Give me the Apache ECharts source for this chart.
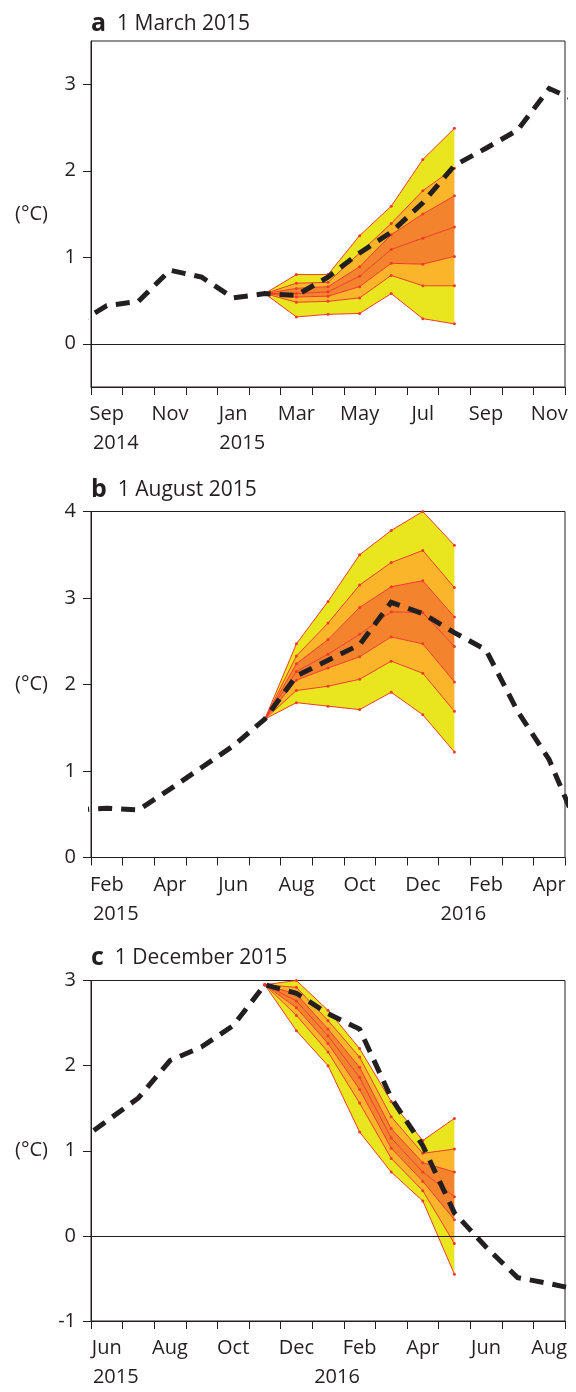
<!DOCTYPE html>
<html>
<head>
<meta charset="utf-8">
<script src="https://cdn.jsdelivr.net/npm/echarts@6/dist/echarts.min.js"></script>
<style>
  html, body { margin: 0; padding: 0; background: #fff; }
  #chart { width: 576px; height: 1392px; }
</style>
</head>
<body>
<div id="chart"></div>
<script>
// ---------- data ----------
// Month slots are counted from the first month on each axis (slot 0).
// Observed anomaly series start one slot before the axis (slot -1) and end one
// slot after it, so the curve runs out to the frame on both sides.
// Forecast plumes: seven percentile lines, top to bottom, starting at fanStart.

// a: forecast issued 1 March 2015 (axis Sep 2014 – Nov 2015)
const aMonthLabels = ['Sep', '', 'Nov', '', 'Jan', '', 'Mar', '', 'May', '', 'Jul', '', 'Sep', '', 'Nov'];
const aYearLabels  = ['2014', '', '', '', '2015', '', '', '', '', '', '', '', '', '', ''];
const aYTicks = [0, 1, 2, 3];
const aObserved = [0.22, 0.44, 0.49, 0.85, 0.77, 0.53, 0.58, 0.56, 0.77, 1.05, 1.29, 1.63, 2.06, 2.26, 2.47, 2.95, 2.79];
const aFanStart = 5;
const aP1 = [0.58, 0.80, 0.80, 1.25, 1.59, 2.13, 2.49];
const aP2 = [0.58, 0.70, 0.71, 1.05, 1.39, 1.77, 2.03];
const aP3 = [0.58, 0.64, 0.66, 0.89, 1.26, 1.50, 1.71];
const aP4 = [0.58, 0.58, 0.60, 0.78, 1.09, 1.22, 1.35];
const aP5 = [0.58, 0.54, 0.55, 0.66, 0.93, 0.92, 1.01];
const aP6 = [0.58, 0.48, 0.49, 0.53, 0.79, 0.67, 0.67];
const aP7 = [0.58, 0.31, 0.34, 0.35, 0.58, 0.29, 0.23];

// b: forecast issued 1 August 2015 (axis Feb 2015 – Apr 2016)
const bMonthLabels = ['Feb', '', 'Apr', '', 'Jun', '', 'Aug', '', 'Oct', '', 'Dec', '', 'Feb', '', 'Apr'];
const bYearLabels  = ['2015', '', '', '', '', '', '', '', '', '', '', '2016', '', '', ''];
const bYTicks = [0, 1, 2, 3, 4];
const bObserved = [0.55, 0.57, 0.55, 0.79, 1.04, 1.29, 1.60, 2.10, 2.28, 2.46, 2.95, 2.82, 2.60, 2.40, 1.69, 1.13, 0.27];
const bFanStart = 5;
const bP1 = [1.60, 2.47, 2.96, 3.50, 3.78, 4.00, 3.61];
const bP2 = [1.60, 2.33, 2.71, 3.15, 3.41, 3.55, 3.12];
const bP3 = [1.60, 2.24, 2.52, 2.89, 3.13, 3.20, 2.78];
const bP4 = [1.60, 2.15, 2.35, 2.58, 2.84, 2.83, 2.44];
const bP5 = [1.60, 2.05, 2.19, 2.32, 2.55, 2.47, 2.03];
const bP6 = [1.60, 1.93, 1.98, 2.06, 2.27, 2.13, 1.69];
const bP7 = [1.60, 1.79, 1.75, 1.71, 1.91, 1.65, 1.22];

// c: forecast issued 1 December 2015 (axis Jun 2015 – Aug 2016)
const cMonthLabels = ['Jun', '', 'Aug', '', 'Oct', '', 'Dec', '', 'Feb', '', 'Apr', '', 'Jun', '', 'Aug'];
const cYearLabels  = ['2015', '', '', '', '', '', '', '2016', '', '', '', '', '', '', ''];
const cYTicks = [-1, 0, 1, 2, 3];
const cObserved = [1.08, 1.35, 1.62, 2.06, 2.22, 2.47, 2.95, 2.85, 2.61, 2.43, 1.62, 1.06, 0.27, -0.13, -0.49, -0.56, -0.64];
const cFanStart = 5;
const cP1 = [2.95, 3.00, 2.65, 2.20, 1.58, 1.12, 1.38];
const cP2 = [2.95, 2.92, 2.53, 2.10, 1.40, 0.97, 1.02];
const cP3 = [2.95, 2.84, 2.43, 1.98, 1.26, 0.86, 0.75];
const cP4 = [2.95, 2.76, 2.35, 1.86, 1.15, 0.75, 0.46];
const cP5 = [2.95, 2.68, 2.26, 1.72, 1.03, 0.64, 0.19];
const cP6 = [2.95, 2.59, 2.16, 1.56, 0.91, 0.53, -0.09];
const cP7 = [2.95, 2.41, 2.00, 1.22, 0.75, 0.41, -0.45];

// ---------- styling ----------
const INK = '#231f20';
const RED = '#ef3b2c';
const YELLOW = '#e9e620';
const AMBER = '#fbb52a';
const ORANGE = '#f4832e';
const BAND_COLORS = [YELLOW, AMBER, ORANGE, ORANGE, AMBER, YELLOW];
const FONT = '"Open Sans", "Noto Sans", sans-serif';
const N_MONTHS = 15;

const panels = [
  { letter: 'a', date: '1 March 2015', months: aMonthLabels, years: aYearLabels, yTicks: aYTicks,
    yMin: -0.5, yMax: 3.5, observed: aObserved, fanStart: aFanStart,
    fan: [aP1, aP2, aP3, aP4, aP5, aP6, aP7], zeroLine: true, top: 41, height: 346, titleTop: 11 },
  { letter: 'b', date: '1 August 2015', months: bMonthLabels, years: bYearLabels, yTicks: bYTicks,
    yMin: 0, yMax: 4, observed: bObserved, fanStart: bFanStart,
    fan: [bP1, bP2, bP3, bP4, bP5, bP6, bP7], zeroLine: false, top: 511.5, height: 346, titleTop: 477 },
  { letter: 'c', date: '1 December 2015', months: cMonthLabels, years: cYearLabels, yTicks: cYTicks,
    yMin: -1, yMax: 3, observed: cObserved, fanStart: cFanStart,
    fan: [cP1, cP2, cP3, cP4, cP5, cP6, cP7], zeroLine: true, top: 980.5, height: 345.5, titleTop: 945 }
];

const range = n => Array.from({ length: n }, (_, i) => i);
const monthCentres = range(N_MONTHS).map(i => i + 0.5);
const monthEdges = range(N_MONTHS + 1);

const option = {
  animation: false,
  backgroundColor: '#fff',
  textStyle: { fontFamily: FONT, color: INK },
  title: [], grid: [], xAxis: [], yAxis: [], series: []
};

panels.forEach((p, gi) => {
  option.title.push({
    left: 91, top: p.titleTop, padding: 0,
    text: '{l|' + p.letter + '}{t|' + p.date + '}',
    textStyle: {
      fontWeight: 'normal',
      rich: {
        l: { fontFamily: FONT, fontWeight: 'bold', fontSize: 25, color: INK, lineHeight: 26 },
        t: { fontFamily: FONT, fontWeight: 'normal', fontSize: 21, color: INK, lineHeight: 26, padding: [0, 0, 0, 11] }
      }
    }
  });

  option.grid.push({
    left: 91, right: 11, top: p.top, height: p.height,
    show: true, borderColor: INK, borderWidth: 1, backgroundColor: 'transparent'
  });

  option.xAxis.push({
    type: 'value', gridIndex: gi, min: 0, max: N_MONTHS,
    axisLine: { show: true, onZero: false, lineStyle: { color: INK, width: 1 } },
    axisTick: { show: true, customValues: monthEdges, length: 8, lineStyle: { color: INK, width: 1 } },
    splitLine: { show: false },
    axisLabel: {
      customValues: monthCentres, margin: 13, fontSize: 20, fontFamily: FONT, color: INK, lineHeight: 29,
      formatter: v => {
        const i = Math.floor(v);
        const m = p.months[i], y = p.years[i];
        let s = m ? '{m|' + m + '}' : '';
        if (y) s += '\n{y|' + y + '}';
        return s;
      },
      rich: {
        m: { fontSize: 20, fontFamily: FONT, color: INK, lineHeight: 29 },
        y: { fontSize: 20, fontFamily: FONT, color: INK, lineHeight: 29, padding: [0, 0, 0, 18] }
      }
    }
  });

  option.yAxis.push({
    type: 'value', gridIndex: gi, min: p.yMin, max: p.yMax,
    name: '(\u00b0C)', nameLocation: 'middle', nameRotate: 0, nameGap: 43,
    nameTextStyle: { fontSize: 20, fontFamily: FONT, color: INK },
    axisLine: { show: true, lineStyle: { color: INK, width: 1 } },
    axisTick: { show: true, customValues: p.yTicks, length: 8, lineStyle: { color: INK, width: 1 } },
    axisLabel: { customValues: p.yTicks, margin: 15, fontSize: 20, fontFamily: FONT, color: INK },
    splitLine: { show: false }
  });

  // shaded plume bands between neighbouring percentile lines
  option.series.push({
    type: 'custom', xAxisIndex: gi, yAxisIndex: gi, silent: true, z: 1, clip: true,
    data: range(p.fan.length - 1),
    renderItem: (params, api) => {
      const k = params.dataIndex;
      const upper = p.fan[k], lower = p.fan[k + 1];
      const pts = [];
      upper.forEach((v, i) => pts.push(api.coord([p.fanStart + i + 0.5, v])));
      for (let i = lower.length - 1; i >= 0; i--) pts.push(api.coord([p.fanStart + i + 0.5, lower[i]]));
      return { type: 'polygon', shape: { points: pts }, style: { fill: BAND_COLORS[k] } };
    }
  });

  // percentile lines with vertex dots
  p.fan.forEach(line => {
    option.series.push({
      type: 'line', xAxisIndex: gi, yAxisIndex: gi, silent: true, z: 2,
      data: line.map((v, i) => [p.fanStart + i + 0.5, v]),
      symbol: 'circle', symbolSize: 3, showSymbol: true,
      itemStyle: { color: RED }, lineStyle: { color: RED, width: 1 }
    });
  });

  // observed anomaly, dashed
  const obs = {
    type: 'line', xAxisIndex: gi, yAxisIndex: gi, silent: true, z: 4, clip: true,
    data: p.observed.map((v, i) => [i - 1 + 0.5, v]),
    symbol: 'none',
    lineStyle: { color: INK, width: 5, type: [14, 9], cap: 'butt', join: 'miter' }
  };
  if (p.zeroLine) {
    obs.markLine = {
      silent: true, symbol: 'none', label: { show: false },
      lineStyle: { color: INK, width: 1, type: 'solid' },
      data: [{ yAxis: 0 }]
    };
  }
  option.series.push(obs);
});

const chart = echarts.init(document.getElementById('chart'), null, { renderer: 'canvas' });
chart.setOption(option);
</script>
</body>
</html>
